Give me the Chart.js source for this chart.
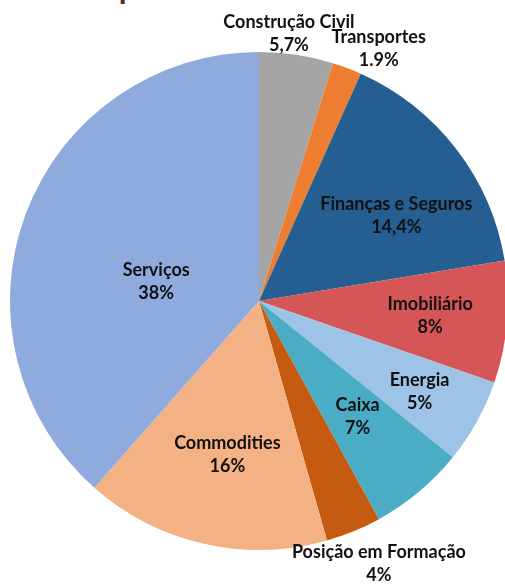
<!DOCTYPE html>
<html>
<head>
<meta charset="utf-8">
<script src="https://cdn.jsdelivr.net/npm/chart.js@4/dist/chart.umd.min.js"></script>
<style>
  html, body { margin: 0; padding: 0; background: #fff; overflow: hidden; }
  #wrap { position: relative; width: 505px; height: 586px; overflow: hidden; }
  #title {
    position: absolute; top: -29px; left: -90px; white-space: nowrap;
    font: bold 32px/32px Lato, sans-serif; color: #5a2626;
  }
  #chartPie { position: absolute; left: 0; top: 0; }
</style>
</head>
<body>
<div id="wrap">
  <div id="title">Investimentos por Setor Econômico</div>
  <canvas id="chartPie" width="520" height="586"></canvas>
</div>
<script>
const sectors = ["Construção Civil", "Transportes", "Finanças e Seguros", "Imobiliário",
                 "Energia", "Caixa", "Posição em Formação", "Commodities", "Serviços"];
const shares = [4.8, 1.9, 15.7, 7.9, 5.5, 6.2, 3.6, 15.9, 38.5];
const shareLabels = ["5,7%", "1.9%", "14,4%", "8%", "5%", "7%", "4%", "16%", "38%"];

const sliceColors = ["#a5a5a5", "#ed7d31", "#255e91", "#d55656", "#9dc3e6",
                     "#4bacc6", "#c55a11", "#f4b183", "#8faadc"];

// where each label sits: fraction of the radius, fraction along the slice
const labelRadius = [1.08, 1.12, 0.65, 0.69, 0.74, 0.61, 1.16, 0.63, 0.42];
const labelAlong  = [0.37, 1.19, 0.60, 0.50, 0.52, 0.475, 0.33, 0.48, 0.426];

const sliceLabels = {
    id: "sliceLabels",
    afterDatasetsDraw(chart) {
        const ctx = chart.ctx;
        const arcs = chart.getDatasetMeta(0).data;
        ctx.save();
        ctx.font = "bold 18px Lato, sans-serif";
        ctx.fillStyle = "#111";
        ctx.textAlign = "center";
        ctx.textBaseline = "middle";
        arcs.forEach((arc, i) => {
            const a = arc.startAngle + labelAlong[i] * (arc.endAngle - arc.startAngle);
            const r = labelRadius[i] * arc.outerRadius;
            const x = arc.x + r * Math.cos(a);
            const y = arc.y + r * Math.sin(a);
            ctx.fillText(sectors[i], x, y - 11.5);
            ctx.fillText(shareLabels[i], x, y + 11.5);
        });
        ctx.restore();
    }
};

new Chart(document.getElementById("chartPie").getContext("2d"), {
    type: "pie",
    data: {
        labels: sectors,
        datasets: [{
            data: shares,
            backgroundColor: sliceColors,
            borderWidth: 0,
            hoverOffset: 0
        }]
    },
    options: {
        responsive: false,
        animation: false,
        layout: { padding: { left: 10, right: 12, top: 52, bottom: 36 } },
        plugins: {
            legend: { display: false },
            tooltip: { enabled: false }
        }
    },
    plugins: [sliceLabels]
});
</script>
</body>
</html>
